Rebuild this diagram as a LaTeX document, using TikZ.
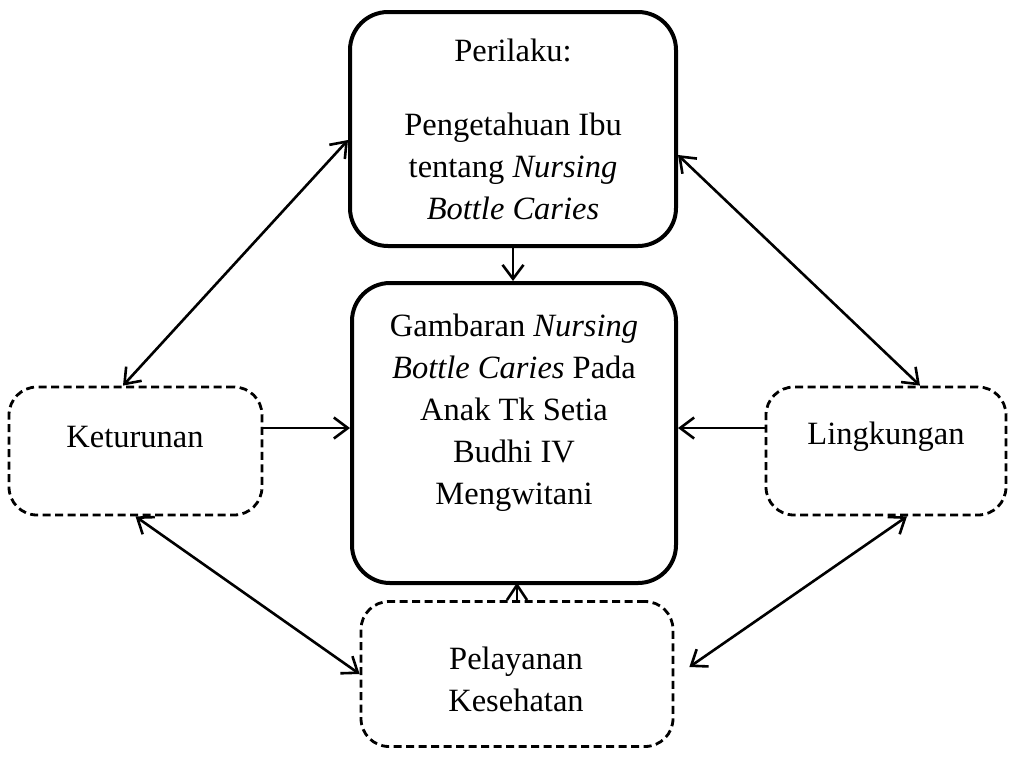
\documentclass[tikz,border=0pt]{standalone}
\usepackage{fontspec}
\setmainfont{Liberation Serif}
\usetikzlibrary{arrows.meta}
\begin{document}
\begin{tikzpicture}[x=1pt,y=-1pt,
  solidbox/.style={draw,line width=4pt,rounded corners=38pt,inner sep=0pt},
  dashbox/.style={draw,line width=2.8pt,dash pattern=on 8pt off 4.5pt,rounded corners=28pt,inner sep=0pt},
  txt/.style={align=center,font=\fontsize{32.5}{42}\selectfont,inner sep=0pt},
  arr/.style={line width=2.6pt,-{Straight Barb[length=14pt,width=21pt,line width=2.6pt]}},
  plain/.style={line width=2.6pt},
  darr/.style={line width=2.6pt,{Straight Barb[length=14pt,width=21pt,line width=2.6pt]}-{Straight Barb[length=14pt,width=21pt,line width=2.6pt]}}]
\useasboundingbox (0,0) rectangle (1012,756);
\node[solidbox,minimum width=326pt,minimum height=234pt] (top) at (513,129) {};
\node[solidbox,minimum width=324pt,minimum height=300pt] (ctr) at (514,433) {};
\node[dashbox,minimum width=253pt,minimum height=128pt] (ket) at (135.5,451) {};
\node[dashbox,minimum width=240pt,minimum height=128pt] (ling) at (886,451) {};
\node[dashbox,minimum width=312pt,minimum height=145pt] (pel) at (517,674) {};
\node[txt] (t1) at (513,50) {Perilaku:};
\node[txt] (t2) at (513,166) {Pengetahuan Ibu\\tentang \textit{Nursing}\\\textit{Bottle Caries}};
\node[txt] (t3) at (514,413) {Gambaran \textit{Nursing}\\\textit{Bottle Caries} Pada\\Anak Tk Setia\\Budhi IV\\Mengwitani};
\node[txt] (t4) at (135,437) {Keturunan};
\node[txt] (t5) at (886,437) {Lingkungan};
\node[txt] (t6) at (516,679) {Pelayanan\\Kesehatan};
\draw[arr] (top.south) -- (top.south |- ctr.north);
\draw[arr] ([yshift=23pt]ket.east) -- ([yshift=23pt]ket.east -| ctr.west);
\draw[arr] ([yshift=23pt]ling.west) -- ([yshift=23pt]ling.west -| ctr.east);
\coordinate (ptip) at (pel.north |- ctr.south);
\draw[plain] (pel.north) -- (ptip);
\draw[plain,line join=miter] ([xshift=-10pt,yshift=-15pt]ptip) -- (ptip) -- ([xshift=10pt,yshift=-15pt]ptip);
\draw[darr] ([yshift=-11pt]top.west) -- ([xshift=-12.5pt]ket.north);
\draw[darr] ([yshift=-26pt]top.east) -- ([xshift=34pt]ling.north);
\draw[darr] (ket.south) -- (pel.west);
\draw[darr] ([xshift=21pt]ling.south) -- ([xshift=15pt,yshift=7pt]pel.east);
\end{tikzpicture}
\end{document}
